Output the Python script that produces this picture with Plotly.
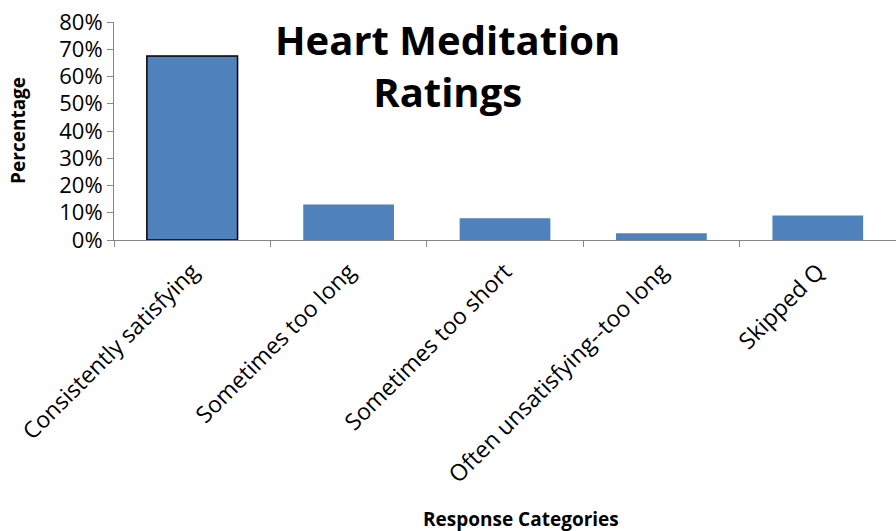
import plotly.graph_objects as go

categories = ["Consistently satisfying", "Sometimes too long", "Sometimes too short",
              "Often unsatisfying--too long", "Skipped Q"]
percentages = [0.675, 0.13, 0.08, 0.025, 0.09]
y_ticks = [0, 0.1, 0.2, 0.3, 0.4, 0.5, 0.6, 0.7, 0.8]

BLUE = "#4F81BD"
AXIS = "#868686"
FONT = "Open Sans"

# first bar is drawn with a black outline, the rest without
outline_w = [1.5, 0, 0, 0, 0]

fig = go.Figure()
fig.add_trace(go.Bar(
    x=categories, y=percentages,
    marker=dict(color=BLUE, line=dict(color="black", width=outline_w)),
    width=0.58,
))

# chart title sits inside the plot area, left of centre
fig.add_annotation(
    x=0.427, y=0.80, xref="paper", yref="paper",
    text="<b>Heart Meditation<br>Ratings</b>",
    showarrow=False, xanchor="center", yanchor="middle",
    font=dict(family=FONT, size=40, color="black"),
)
# axis titles as annotations so they stay put
fig.add_annotation(
    x=0.52, y=-1.28, xref="paper", yref="paper",
    text="<b>Response Categories</b>",
    showarrow=False, xanchor="center", yanchor="middle",
    font=dict(family=FONT, size=19, color="black"),
)
fig.add_annotation(
    x=-0.1228, y=0.505, xref="paper", yref="paper",
    text="<b>Percentage</b>", textangle=-90,
    showarrow=False, xanchor="center", yanchor="middle",
    font=dict(family=FONT, size=19, color="black"),
)

fig.update_layout(
    width=896, height=531,
    margin=dict(l=114, r=0, t=22, b=291),
    plot_bgcolor="white", paper_bgcolor="white",
    showlegend=False,
    font=dict(family=FONT, color="black"),
    xaxis=dict(
        tickangle=-45, tickfont=dict(size=23), automargin=False,
        ticklabelstandoff=8,
        showline=True, linecolor=AXIS, linewidth=1,
        ticks="outside", tickson="boundaries", ticklen=6, tickcolor=AXIS,
    ),
    yaxis=dict(
        range=[0, 0.8], tickvals=y_ticks, tickformat=".0%",
        tickfont=dict(size=22), automargin=False, ticklabeloverflow="allow",
        showline=True, linecolor=AXIS, linewidth=1,
        ticks="outside", ticklen=6, tickcolor=AXIS,
        showgrid=False, zeroline=False,
    ),
)

# drop the default 8px body margin so the figure fills the window
fig.write_html("out.html", config={"displayModeBar": False},
               post_script="document.body.style.margin='0';")
